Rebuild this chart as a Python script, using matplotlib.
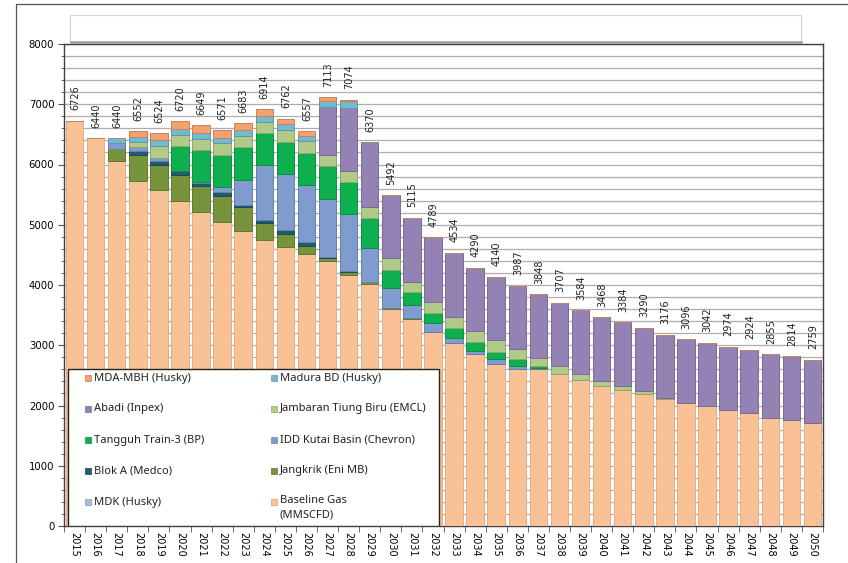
import matplotlib
matplotlib.use("Agg")
import matplotlib.pyplot as plt
import numpy as np
from matplotlib.patches import Rectangle
from matplotlib.lines import Line2D
import matplotlib.colors as mcolors

years = [str(y) for y in range(2015, 2051)]

baseline = [6726, 6440, 6060, 5732, 5570, 5390, 5210, 5050, 4895, 4740, 4630, 4520,
            4400, 4170, 4010, 3605, 3430, 3215, 3040, 2850, 2695, 2605, 2600, 2515,
            2415, 2330, 2262, 2183, 2110, 2044, 1990, 1919, 1869, 1800, 1759, 1704]
mdk = [0] * 36
jangkrik = [0, 0, 195, 425, 430, 443, 430, 435, 395, 290, 210, 135,
            55, 45, 45, 15, 15, 10, 0, 0, 0, 0, 0, 0,
            0, 0, 0, 0, 0, 0, 0, 0, 0, 0, 0, 0]
blok_a = [0, 0, 0, 70, 60, 66, 60, 55, 45, 55, 66, 55,
          15, 20, 0, 0, 0, 0, 0, 0, 0, 0, 0, 0,
          0, 0, 0, 0, 0, 0, 0, 0, 0, 0, 0, 0]
idd = [0, 0, 95, 65, 55, 0, 15, 85, 405, 900, 930, 945,
       955, 940, 565, 335, 215, 140, 77, 55, 75, 55, 25, 10,
       0, 0, 0, 0, 0, 0, 0, 0, 0, 0, 0, 0]
tangguh = [0, 0, 0, 0, 0, 404, 525, 530, 545, 532, 542, 535,
           553, 530, 490, 290, 220, 175, 177, 150, 125, 115, 30, 0,
           0, 0, 0, 0, 0, 0, 0, 0, 0, 0, 0, 0]
jtb = [0, 0, 0, 75, 190, 194, 190, 194, 185, 186, 190, 194,
       178, 188, 185, 195, 172, 185, 177, 183, 190, 160, 140, 130,
       112, 83, 67, 55, 15, 0, 0, 0, 0, 0, 0, 0]
abadi = [0, 0, 0, 0, 0, 0, 0, 0, 0, 0, 0, 0,
         802, 1050, 1060, 1052, 1063, 1064, 1063, 1052, 1055, 1052, 1053, 1052,
         1057, 1055, 1055, 1052, 1051, 1052, 1052, 1055, 1055, 1055, 1055, 1055]
madura = [0, 0, 90, 95, 105, 100, 97, 95, 95, 100, 100, 90,
          100, 115, 15, 0, 0, 0, 0, 0, 0, 0, 0, 0,
          0, 0, 0, 0, 0, 0, 0, 0, 0, 0, 0, 0]
mda_mbh = [0, 0, 0, 90, 114, 123, 122, 127, 118, 111, 94, 83,
           55, 16, 0, 0, 0, 0, 0, 0, 0, 0, 0, 0,
           0, 0, 0, 0, 0, 0, 0, 0, 0, 0, 0, 0]
totals = [6726, 6440, 6440, 6552, 6524, 6720, 6649, 6571, 6683, 6914, 6762, 6557,
          7113, 7074, 6370, 5492, 5115, 4789, 4534, 4290, 4140, 3987, 3848, 3707,
          3584, 3468, 3384, 3290, 3176, 3096, 3042, 2974, 2924, 2855, 2814, 2759]

series_names = ["Baseline Gas\n(MMSCFD)", "MDK (Husky)", "Jangkrik (Eni MB)", "Blok A (Medco)",
                "IDD Kutai Basin (Chevron)", "Tangguh Train-3 (BP)", "Jambaran Tiung Biru (EMCL)",
                "Abadi (Inpex)", "Madura BD (Husky)", "MDA-MBH (Husky)"]
series_vals = [baseline, mdk, jangkrik, blok_a, idd, tangguh, jtb, abadi, madura, mda_mbh]
colors = ["#F9C196", "#A8B9DA", "#77933C", "#1F5C6E", "#809CCF", "#0DAF4F",
          "#B2CA88", "#9582B4", "#73B9D0", "#F3A171"]

def darker(c, f=0.82):
    r, g, b = mcolors.to_rgb(c)
    return (r * f, g * f, b * f)

W, H = 848, 563
fig = plt.figure(figsize=(W / 100, H / 100), dpi=100)
ax_l, ax_r, ax_t, ax_b = 64, 823, 44, 526
ax = fig.add_axes([ax_l / W, 1 - ax_b / H, (ax_r - ax_l) / W, (ax_b - ax_t) / H])

x = np.arange(len(years))
bottom = np.zeros(len(years))
for name, vals, col in zip(series_names, series_vals, colors):
    v = np.array(vals, dtype=float)
    ec = darker(col, 0.9) if name.startswith("Baseline") else darker(col)
    ax.bar(x, v, width=0.83, bottom=bottom, color=col, edgecolor=ec,
           linewidth=0.7, zorder=3)
    bottom += v

for xi, t in zip(x, totals):
    ax.annotate(str(t), (xi, t), xytext=(0.4, 7.5), textcoords="offset points",
                rotation=90, ha="center", va="bottom", fontsize=7,
                family="DejaVu Sans", color="#222222")

ax.set_xlim(-0.5, len(years) - 0.5)
ax.set_ylim(0, 8000)
ax.set_yticks(np.arange(0, 8001, 1000))
ax.set_yticks(np.arange(0, 8001, 200), minor=True)
ax.set_yticklabels([str(v) for v in range(0, 8001, 1000)], fontsize=7.3)
ax.grid(axis="y", which="both", color="#ADADAD", linewidth=0.9, zorder=0)
ax.set_axisbelow(True)

ax.set_xticks(x)
ax.set_xticklabels(years, rotation=-90, fontsize=7, va="top")
ax.set_xticks(np.arange(-0.5, len(years), 1.0), minor=True)
ax.tick_params(axis="x", which="major", length=0, pad=4)
ax.tick_params(axis="x", which="minor", length=4, color="#555555")
ax.tick_params(axis="y", which="major", length=4, color="#555555", pad=3)
ax.tick_params(axis="y", which="minor", length=2, color="#555555")
for s in ax.spines.values():
    s.set_color("#404040")
    s.set_linewidth(1.0)

# legend box (manual layout, matching reference)
def fx(px):
    return (px - ax_l) / (ax_r - ax_l)

def fy(py):
    return (ax_b - py) / (ax_b - ax_t)

ax.add_patch(Rectangle((fx(68), fy(526)), fx(439) - fx(68), fy(369) - fy(526),
                       transform=ax.transAxes, facecolor="white", edgecolor="#222222",
                       linewidth=1.0, zorder=10))
legend_rows = [("MDA-MBH (Husky)", "Madura BD (Husky)"),
               ("Abadi (Inpex)", "Jambaran Tiung Biru (EMCL)"),
               ("Tangguh Train-3 (BP)", "IDD Kutai Basin (Chevron)"),
               ("Blok A (Medco)", "Jangkrik (Eni MB)"),
               ("MDK (Husky)", "Baseline Gas\n(MMSCFD)")]
col_of = dict(zip(series_names, colors))
row_y = [378, 409, 440, 471, 502]
for (a, b), ry in zip(legend_rows, row_y):
    for name, mx in ((a, 85), (b, 271)):
        ax.add_patch(Rectangle((fx(mx), fy(ry + 3)), fx(mx + 6) - fx(mx), fy(ry - 3) - fy(ry + 3),
                               transform=ax.transAxes, facecolor=col_of[name],
                               edgecolor=darker(col_of[name]), linewidth=0.5, zorder=11))
        if "\n" in name:
            ax.text(fx(mx + 9), fy(ry - 7), name, transform=ax.transAxes, fontsize=8,
                    family="Noto Sans", color="#222222", ha="left", va="top",
                    zorder=12, linespacing=1.45)
        else:
            ax.text(fx(mx + 9), fy(ry), name, transform=ax.transAxes, fontsize=8,
                    family="Noto Sans", color="#222222", ha="left", va="center",
                    zorder=12)

# top empty box and outer frame
fig.add_artist(Rectangle((70 / W, 1 - 42 / H), (801 - 70) / W, (42 - 15) / H,
                         transform=fig.transFigure, facecolor="white",
                         edgecolor="#D4D4D4", linewidth=0.8))
fig.add_artist(Line2D([71 / W, 801 / W], [1 - 42 / H, 1 - 42 / H],
                      transform=fig.transFigure, color="#9A9A9A", linewidth=1.8))
fig.add_artist(Line2D([16 / W, 16 / W, 1.0],
                      [0, 1 - 4 / H, 1 - 4 / H],
                      transform=fig.transFigure, color="#555555", linewidth=0.9))

fig.savefig("out.png", dpi=100)
